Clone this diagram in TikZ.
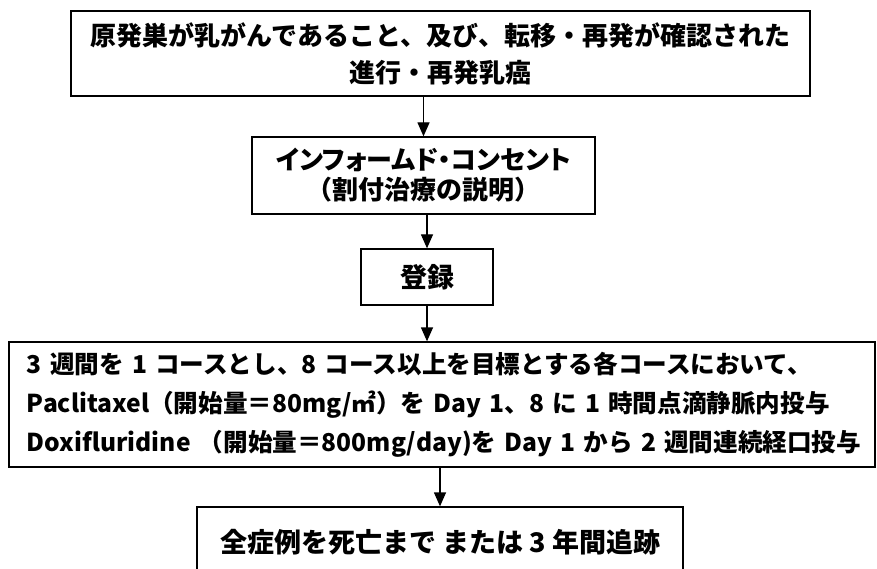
\documentclass[tikz,border=0pt]{standalone}
\usepackage{fontspec}
\setmainfont{Noto Sans CJK JP}
\newfontfamily\propkana{Noto Sans CJK JP}[RawFeature=+palt]
\usetikzlibrary{arrows.meta}

\tikzset{
  flowbox/.style={draw=black,line width=1.3pt,fill=white,inner sep=0pt,font=\bfseries},
  arr/.style={line width=1.3pt,-{Triangle[length=14pt,width=12pt]}}
}

\begin{document}
\begin{tikzpicture}[x=1pt,y=-1pt]

\useasboundingbox[fill=white] (0,0) rectangle (877,569);
\clip (0,0) rectangle (877,569);

% boxes of the flow
\node[flowbox,minimum width=739pt,minimum height=85pt,align=center,
  font=\bfseries\fontsize{26pt}{37pt}\selectfont] (entry) at (440.5,53.5)
  {原発巣が乳がんであること、及び、転移・再発が確認された\\進行・再発乳癌};
\node[flowbox,minimum width=343pt,minimum height=77pt,align=center,
  font=\bfseries\fontsize{26pt}{30pt}\selectfont] (consent) at (423.5,175.5)
  {{\propkana\bfseries インフォームド・コンセント}\\（割付治療の説明）};
\node[flowbox,minimum width=132pt,minimum height=56pt,
  font=\bfseries\fontsize{27pt}{30pt}\selectfont] (regist) at (427,277) {登録};
\node[flowbox,minimum width=866pt,minimum height=125pt,text width=830pt,align=left,
  font=\bfseries\fontsize{24.6pt}{39pt}\selectfont] (regimen) at (442,404.5)
  {\mbox{3 週間を 1 コースとし、8 コース以上を目標とする各コースにおいて、}\\
   \mbox{Paclitaxel（開始量＝80mg/㎡）を Day 1、8 に 1 時間点滴静脈内投与}\\
   \mbox{Doxifluridine （開始量＝800mg/day)を Day 1 から 2 週間連続経口投与}};
\node[flowbox,minimum width=486pt,minimum height=70pt,
  font=\bfseries\fontsize{27pt}{30pt}\selectfont] (follow) at (440,542)
  {全症例を死亡まで または 3 年間追跡};

% arrows
\draw[arr] (entry.south -| consent.north) -- (consent.north);
\draw[arr] (consent.south -| regist.north) -- (regist.north);
\draw[arr] (regist.south) -- (regist.south |- regimen.north);
\draw[arr] (regimen.south -| follow.north) -- (follow.north);

\end{tikzpicture}
\end{document}
